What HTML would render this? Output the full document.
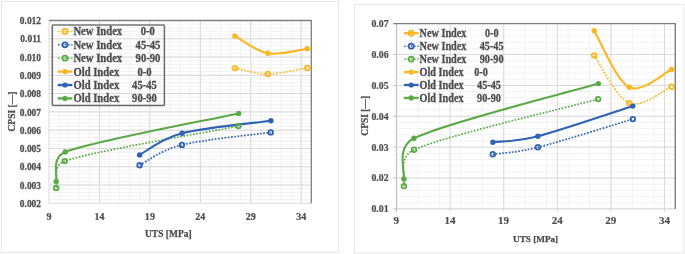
<!DOCTYPE html>
<html><head><meta charset="utf-8"><style>
html,body{margin:0;padding:0;background:#fff;width:685px;height:254px;overflow:hidden}
svg{display:block}
</style></head><body>
<svg width="685" height="254" viewBox="0 0 685 254">
<rect width="685" height="254" fill="#fff"/>
<rect x="1.5" y="1.5" width="337" height="251" fill="#fff" stroke="#e6e6e6" stroke-width="1"/>
<line x1="59.09" y1="20.5" x2="59.09" y2="203.3" stroke="#f2f2f2" stroke-width="1"/>
<line x1="69.18" y1="20.5" x2="69.18" y2="203.3" stroke="#f2f2f2" stroke-width="1"/>
<line x1="79.27" y1="20.5" x2="79.27" y2="203.3" stroke="#f2f2f2" stroke-width="1"/>
<line x1="89.35" y1="20.5" x2="89.35" y2="203.3" stroke="#f2f2f2" stroke-width="1"/>
<line x1="99.44" y1="20.5" x2="99.44" y2="203.3" stroke="#f2f2f2" stroke-width="1"/>
<line x1="109.53" y1="20.5" x2="109.53" y2="203.3" stroke="#f2f2f2" stroke-width="1"/>
<line x1="119.62" y1="20.5" x2="119.62" y2="203.3" stroke="#f2f2f2" stroke-width="1"/>
<line x1="129.71" y1="20.5" x2="129.71" y2="203.3" stroke="#f2f2f2" stroke-width="1"/>
<line x1="139.80" y1="20.5" x2="139.80" y2="203.3" stroke="#f2f2f2" stroke-width="1"/>
<line x1="149.88" y1="20.5" x2="149.88" y2="203.3" stroke="#f2f2f2" stroke-width="1"/>
<line x1="159.97" y1="20.5" x2="159.97" y2="203.3" stroke="#f2f2f2" stroke-width="1"/>
<line x1="170.06" y1="20.5" x2="170.06" y2="203.3" stroke="#f2f2f2" stroke-width="1"/>
<line x1="180.15" y1="20.5" x2="180.15" y2="203.3" stroke="#f2f2f2" stroke-width="1"/>
<line x1="190.24" y1="20.5" x2="190.24" y2="203.3" stroke="#f2f2f2" stroke-width="1"/>
<line x1="200.33" y1="20.5" x2="200.33" y2="203.3" stroke="#f2f2f2" stroke-width="1"/>
<line x1="210.42" y1="20.5" x2="210.42" y2="203.3" stroke="#f2f2f2" stroke-width="1"/>
<line x1="220.50" y1="20.5" x2="220.50" y2="203.3" stroke="#f2f2f2" stroke-width="1"/>
<line x1="230.59" y1="20.5" x2="230.59" y2="203.3" stroke="#f2f2f2" stroke-width="1"/>
<line x1="240.68" y1="20.5" x2="240.68" y2="203.3" stroke="#f2f2f2" stroke-width="1"/>
<line x1="250.77" y1="20.5" x2="250.77" y2="203.3" stroke="#f2f2f2" stroke-width="1"/>
<line x1="260.86" y1="20.5" x2="260.86" y2="203.3" stroke="#f2f2f2" stroke-width="1"/>
<line x1="270.95" y1="20.5" x2="270.95" y2="203.3" stroke="#f2f2f2" stroke-width="1"/>
<line x1="281.03" y1="20.5" x2="281.03" y2="203.3" stroke="#f2f2f2" stroke-width="1"/>
<line x1="291.12" y1="20.5" x2="291.12" y2="203.3" stroke="#f2f2f2" stroke-width="1"/>
<line x1="301.21" y1="20.5" x2="301.21" y2="203.3" stroke="#f2f2f2" stroke-width="1"/>
<line x1="49" y1="199.64" x2="311.3" y2="199.64" stroke="#f2f2f2" stroke-width="1"/>
<line x1="49" y1="195.99" x2="311.3" y2="195.99" stroke="#f2f2f2" stroke-width="1"/>
<line x1="49" y1="192.33" x2="311.3" y2="192.33" stroke="#f2f2f2" stroke-width="1"/>
<line x1="49" y1="188.68" x2="311.3" y2="188.68" stroke="#f2f2f2" stroke-width="1"/>
<line x1="49" y1="185.02" x2="311.3" y2="185.02" stroke="#f2f2f2" stroke-width="1"/>
<line x1="49" y1="181.36" x2="311.3" y2="181.36" stroke="#f2f2f2" stroke-width="1"/>
<line x1="49" y1="177.71" x2="311.3" y2="177.71" stroke="#f2f2f2" stroke-width="1"/>
<line x1="49" y1="174.05" x2="311.3" y2="174.05" stroke="#f2f2f2" stroke-width="1"/>
<line x1="49" y1="170.40" x2="311.3" y2="170.40" stroke="#f2f2f2" stroke-width="1"/>
<line x1="49" y1="166.74" x2="311.3" y2="166.74" stroke="#f2f2f2" stroke-width="1"/>
<line x1="49" y1="163.08" x2="311.3" y2="163.08" stroke="#f2f2f2" stroke-width="1"/>
<line x1="49" y1="159.43" x2="311.3" y2="159.43" stroke="#f2f2f2" stroke-width="1"/>
<line x1="49" y1="155.77" x2="311.3" y2="155.77" stroke="#f2f2f2" stroke-width="1"/>
<line x1="49" y1="152.12" x2="311.3" y2="152.12" stroke="#f2f2f2" stroke-width="1"/>
<line x1="49" y1="148.46" x2="311.3" y2="148.46" stroke="#f2f2f2" stroke-width="1"/>
<line x1="49" y1="144.80" x2="311.3" y2="144.80" stroke="#f2f2f2" stroke-width="1"/>
<line x1="49" y1="141.15" x2="311.3" y2="141.15" stroke="#f2f2f2" stroke-width="1"/>
<line x1="49" y1="137.49" x2="311.3" y2="137.49" stroke="#f2f2f2" stroke-width="1"/>
<line x1="49" y1="133.84" x2="311.3" y2="133.84" stroke="#f2f2f2" stroke-width="1"/>
<line x1="49" y1="130.18" x2="311.3" y2="130.18" stroke="#f2f2f2" stroke-width="1"/>
<line x1="49" y1="126.52" x2="311.3" y2="126.52" stroke="#f2f2f2" stroke-width="1"/>
<line x1="49" y1="122.87" x2="311.3" y2="122.87" stroke="#f2f2f2" stroke-width="1"/>
<line x1="49" y1="119.21" x2="311.3" y2="119.21" stroke="#f2f2f2" stroke-width="1"/>
<line x1="49" y1="115.56" x2="311.3" y2="115.56" stroke="#f2f2f2" stroke-width="1"/>
<line x1="49" y1="111.90" x2="311.3" y2="111.90" stroke="#f2f2f2" stroke-width="1"/>
<line x1="49" y1="108.24" x2="311.3" y2="108.24" stroke="#f2f2f2" stroke-width="1"/>
<line x1="49" y1="104.59" x2="311.3" y2="104.59" stroke="#f2f2f2" stroke-width="1"/>
<line x1="49" y1="100.93" x2="311.3" y2="100.93" stroke="#f2f2f2" stroke-width="1"/>
<line x1="49" y1="97.28" x2="311.3" y2="97.28" stroke="#f2f2f2" stroke-width="1"/>
<line x1="49" y1="93.62" x2="311.3" y2="93.62" stroke="#f2f2f2" stroke-width="1"/>
<line x1="49" y1="89.96" x2="311.3" y2="89.96" stroke="#f2f2f2" stroke-width="1"/>
<line x1="49" y1="86.31" x2="311.3" y2="86.31" stroke="#f2f2f2" stroke-width="1"/>
<line x1="49" y1="82.65" x2="311.3" y2="82.65" stroke="#f2f2f2" stroke-width="1"/>
<line x1="49" y1="79.00" x2="311.3" y2="79.00" stroke="#f2f2f2" stroke-width="1"/>
<line x1="49" y1="75.34" x2="311.3" y2="75.34" stroke="#f2f2f2" stroke-width="1"/>
<line x1="49" y1="71.68" x2="311.3" y2="71.68" stroke="#f2f2f2" stroke-width="1"/>
<line x1="49" y1="68.03" x2="311.3" y2="68.03" stroke="#f2f2f2" stroke-width="1"/>
<line x1="49" y1="64.37" x2="311.3" y2="64.37" stroke="#f2f2f2" stroke-width="1"/>
<line x1="49" y1="60.72" x2="311.3" y2="60.72" stroke="#f2f2f2" stroke-width="1"/>
<line x1="49" y1="57.06" x2="311.3" y2="57.06" stroke="#f2f2f2" stroke-width="1"/>
<line x1="49" y1="53.40" x2="311.3" y2="53.40" stroke="#f2f2f2" stroke-width="1"/>
<line x1="49" y1="49.75" x2="311.3" y2="49.75" stroke="#f2f2f2" stroke-width="1"/>
<line x1="49" y1="46.09" x2="311.3" y2="46.09" stroke="#f2f2f2" stroke-width="1"/>
<line x1="49" y1="42.44" x2="311.3" y2="42.44" stroke="#f2f2f2" stroke-width="1"/>
<line x1="49" y1="38.78" x2="311.3" y2="38.78" stroke="#f2f2f2" stroke-width="1"/>
<line x1="49" y1="35.12" x2="311.3" y2="35.12" stroke="#f2f2f2" stroke-width="1"/>
<line x1="49" y1="31.47" x2="311.3" y2="31.47" stroke="#f2f2f2" stroke-width="1"/>
<line x1="49" y1="27.81" x2="311.3" y2="27.81" stroke="#f2f2f2" stroke-width="1"/>
<line x1="49" y1="24.16" x2="311.3" y2="24.16" stroke="#f2f2f2" stroke-width="1"/>
<line x1="49.00" y1="20.5" x2="49.00" y2="203.3" stroke="#d9d9d9" stroke-width="1"/>
<line x1="99.44" y1="20.5" x2="99.44" y2="203.3" stroke="#d9d9d9" stroke-width="1"/>
<line x1="149.88" y1="20.5" x2="149.88" y2="203.3" stroke="#d9d9d9" stroke-width="1"/>
<line x1="200.33" y1="20.5" x2="200.33" y2="203.3" stroke="#d9d9d9" stroke-width="1"/>
<line x1="250.77" y1="20.5" x2="250.77" y2="203.3" stroke="#d9d9d9" stroke-width="1"/>
<line x1="301.21" y1="20.5" x2="301.21" y2="203.3" stroke="#d9d9d9" stroke-width="1"/>
<line x1="49" y1="203.30" x2="311.3" y2="203.30" stroke="#d9d9d9" stroke-width="1"/>
<line x1="49" y1="185.02" x2="311.3" y2="185.02" stroke="#d9d9d9" stroke-width="1"/>
<line x1="49" y1="166.74" x2="311.3" y2="166.74" stroke="#d9d9d9" stroke-width="1"/>
<line x1="49" y1="148.46" x2="311.3" y2="148.46" stroke="#d9d9d9" stroke-width="1"/>
<line x1="49" y1="130.18" x2="311.3" y2="130.18" stroke="#d9d9d9" stroke-width="1"/>
<line x1="49" y1="111.90" x2="311.3" y2="111.90" stroke="#d9d9d9" stroke-width="1"/>
<line x1="49" y1="93.62" x2="311.3" y2="93.62" stroke="#d9d9d9" stroke-width="1"/>
<line x1="49" y1="75.34" x2="311.3" y2="75.34" stroke="#d9d9d9" stroke-width="1"/>
<line x1="49" y1="57.06" x2="311.3" y2="57.06" stroke="#d9d9d9" stroke-width="1"/>
<line x1="49" y1="38.78" x2="311.3" y2="38.78" stroke="#d9d9d9" stroke-width="1"/>
<path d="M49,20.5 H311.3 V203.3" fill="none" stroke="#7f7f7f" stroke-width="1.3"/>
<text transform="translate(41.10,207.00) scale(0.87,1)" font-size="10.9" text-anchor="end" fill="#4d4d4d" style="font-family:'Liberation Serif',serif;font-weight:bold;filter:grayscale(1)"  stroke="#4d4d4d" stroke-width="0.25">0.002</text>
<text transform="translate(41.10,188.72) scale(0.87,1)" font-size="10.9" text-anchor="end" fill="#4d4d4d" style="font-family:'Liberation Serif',serif;font-weight:bold;filter:grayscale(1)"  stroke="#4d4d4d" stroke-width="0.25">0.003</text>
<text transform="translate(41.10,170.44) scale(0.87,1)" font-size="10.9" text-anchor="end" fill="#4d4d4d" style="font-family:'Liberation Serif',serif;font-weight:bold;filter:grayscale(1)"  stroke="#4d4d4d" stroke-width="0.25">0.004</text>
<text transform="translate(41.10,152.16) scale(0.87,1)" font-size="10.9" text-anchor="end" fill="#4d4d4d" style="font-family:'Liberation Serif',serif;font-weight:bold;filter:grayscale(1)"  stroke="#4d4d4d" stroke-width="0.25">0.005</text>
<text transform="translate(41.10,133.88) scale(0.87,1)" font-size="10.9" text-anchor="end" fill="#4d4d4d" style="font-family:'Liberation Serif',serif;font-weight:bold;filter:grayscale(1)"  stroke="#4d4d4d" stroke-width="0.25">0.006</text>
<text transform="translate(41.10,115.60) scale(0.87,1)" font-size="10.9" text-anchor="end" fill="#4d4d4d" style="font-family:'Liberation Serif',serif;font-weight:bold;filter:grayscale(1)"  stroke="#4d4d4d" stroke-width="0.25">0.007</text>
<text transform="translate(41.10,97.32) scale(0.87,1)" font-size="10.9" text-anchor="end" fill="#4d4d4d" style="font-family:'Liberation Serif',serif;font-weight:bold;filter:grayscale(1)"  stroke="#4d4d4d" stroke-width="0.25">0.008</text>
<text transform="translate(41.10,79.04) scale(0.87,1)" font-size="10.9" text-anchor="end" fill="#4d4d4d" style="font-family:'Liberation Serif',serif;font-weight:bold;filter:grayscale(1)"  stroke="#4d4d4d" stroke-width="0.25">0.009</text>
<text transform="translate(41.10,60.76) scale(0.87,1)" font-size="10.9" text-anchor="end" fill="#4d4d4d" style="font-family:'Liberation Serif',serif;font-weight:bold;filter:grayscale(1)"  stroke="#4d4d4d" stroke-width="0.25">0.010</text>
<text transform="translate(41.10,42.48) scale(0.87,1)" font-size="10.9" text-anchor="end" fill="#4d4d4d" style="font-family:'Liberation Serif',serif;font-weight:bold;filter:grayscale(1)"  stroke="#4d4d4d" stroke-width="0.25">0.011</text>
<text transform="translate(41.10,24.20) scale(0.87,1)" font-size="10.9" text-anchor="end" fill="#4d4d4d" style="font-family:'Liberation Serif',serif;font-weight:bold;filter:grayscale(1)"  stroke="#4d4d4d" stroke-width="0.25">0.012</text>
<text transform="translate(49.00,219.60) scale(0.88,1)" font-size="11.4" text-anchor="middle" fill="#4d4d4d" style="font-family:'Liberation Serif',serif;font-weight:bold;filter:grayscale(1)"  stroke="#4d4d4d" stroke-width="0.25">9</text>
<text transform="translate(99.44,219.60) scale(0.88,1)" font-size="11.4" text-anchor="middle" fill="#4d4d4d" style="font-family:'Liberation Serif',serif;font-weight:bold;filter:grayscale(1)"  stroke="#4d4d4d" stroke-width="0.25">14</text>
<text transform="translate(149.88,219.60) scale(0.88,1)" font-size="11.4" text-anchor="middle" fill="#4d4d4d" style="font-family:'Liberation Serif',serif;font-weight:bold;filter:grayscale(1)"  stroke="#4d4d4d" stroke-width="0.25">19</text>
<text transform="translate(200.33,219.60) scale(0.88,1)" font-size="11.4" text-anchor="middle" fill="#4d4d4d" style="font-family:'Liberation Serif',serif;font-weight:bold;filter:grayscale(1)"  stroke="#4d4d4d" stroke-width="0.25">24</text>
<text transform="translate(250.77,219.60) scale(0.88,1)" font-size="11.4" text-anchor="middle" fill="#4d4d4d" style="font-family:'Liberation Serif',serif;font-weight:bold;filter:grayscale(1)"  stroke="#4d4d4d" stroke-width="0.25">29</text>
<text transform="translate(301.21,219.60) scale(0.88,1)" font-size="11.4" text-anchor="middle" fill="#4d4d4d" style="font-family:'Liberation Serif',serif;font-weight:bold;filter:grayscale(1)"  stroke="#4d4d4d" stroke-width="0.25">34</text>
<text x="168.30" y="236.90" font-size="9.5" text-anchor="middle" fill="#4d4d4d" style="font-family:'Liberation Serif',serif;font-weight:bold;filter:grayscale(1)"  stroke="#4d4d4d" stroke-width="0.25">UTS [MPa]</text>
<text transform="translate(15.4,111.6) rotate(-90)" x="0" y="0" font-size="9.5" text-anchor="middle" fill="#4d4d4d" stroke="#4d4d4d" stroke-width="0.25" style="font-family:'Liberation Serif',serif;font-weight:bold;filter:grayscale(1)">CPSI [—]</text>
<rect x="52.3" y="25.0" width="112.1" height="80.4" rx="0.8" fill="none" stroke="#6a6a6a" stroke-width="1.5"/>
<line x1="53.2" y1="25.0" x2="163.5" y2="25.0" stroke="#9a9a9a" stroke-width="1.5"/>
<line x1="58" y1="31.4" x2="72.5" y2="31.4" stroke="#F9B821" stroke-width="1.5" stroke-dasharray="1.5,1.8"/>
<circle cx="65" cy="31.4" r="2.5" fill="none" stroke="#F9B821" stroke-width="1.8"/>
<text transform="translate(73.40,35.40) scale(0.895,1)" font-size="11.9" text-anchor="start" fill="#4d4d4d" style="font-family:'Liberation Serif',serif;font-weight:bold;filter:grayscale(1)"  stroke="#4d4d4d" stroke-width="0.3">New Index</text>
<text transform="translate(147.80,35.40) scale(0.895,1)" font-size="11.9" text-anchor="middle" fill="#4d4d4d" style="font-family:'Liberation Serif',serif;font-weight:bold;filter:grayscale(1)"  stroke="#4d4d4d" stroke-width="0.3">0-0</text>
<line x1="58" y1="44.8" x2="72.5" y2="44.8" stroke="#2F63B5" stroke-width="1.5" stroke-dasharray="1.5,1.8"/>
<circle cx="65" cy="44.8" r="2.5" fill="none" stroke="#2F63B5" stroke-width="1.8"/>
<text transform="translate(73.40,48.80) scale(0.895,1)" font-size="11.9" text-anchor="start" fill="#4d4d4d" style="font-family:'Liberation Serif',serif;font-weight:bold;filter:grayscale(1)"  stroke="#4d4d4d" stroke-width="0.3">New Index</text>
<text transform="translate(148.00,48.80) scale(0.895,1)" font-size="11.9" text-anchor="middle" fill="#4d4d4d" style="font-family:'Liberation Serif',serif;font-weight:bold;filter:grayscale(1)"  stroke="#4d4d4d" stroke-width="0.3">45-45</text>
<line x1="58" y1="58.2" x2="72.5" y2="58.2" stroke="#5BAA47" stroke-width="1.5" stroke-dasharray="1.5,1.8"/>
<circle cx="65" cy="58.2" r="2.5" fill="none" stroke="#5BAA47" stroke-width="1.8"/>
<text transform="translate(73.40,62.20) scale(0.895,1)" font-size="11.9" text-anchor="start" fill="#4d4d4d" style="font-family:'Liberation Serif',serif;font-weight:bold;filter:grayscale(1)"  stroke="#4d4d4d" stroke-width="0.3">New Index</text>
<text transform="translate(148.00,62.20) scale(0.895,1)" font-size="11.9" text-anchor="middle" fill="#4d4d4d" style="font-family:'Liberation Serif',serif;font-weight:bold;filter:grayscale(1)"  stroke="#4d4d4d" stroke-width="0.3">90-90</text>
<line x1="57.7" y1="71.6" x2="72.3" y2="71.6" stroke="#F9B821" stroke-width="2.3"/>
<circle cx="65" cy="71.6" r="2.6" fill="#F9B821"/>
<text transform="translate(73.40,75.60) scale(0.895,1)" font-size="11.9" text-anchor="start" fill="#4d4d4d" style="font-family:'Liberation Serif',serif;font-weight:bold;filter:grayscale(1)"  stroke="#4d4d4d" stroke-width="0.3">Old Index</text>
<text transform="translate(144.50,75.60) scale(0.895,1)" font-size="11.9" text-anchor="middle" fill="#4d4d4d" style="font-family:'Liberation Serif',serif;font-weight:bold;filter:grayscale(1)"  stroke="#4d4d4d" stroke-width="0.3">0-0</text>
<line x1="57.7" y1="85.0" x2="72.3" y2="85.0" stroke="#2F63B5" stroke-width="2.3"/>
<circle cx="65" cy="85.0" r="2.6" fill="#2F63B5"/>
<text transform="translate(73.40,89.00) scale(0.895,1)" font-size="11.9" text-anchor="start" fill="#4d4d4d" style="font-family:'Liberation Serif',serif;font-weight:bold;filter:grayscale(1)"  stroke="#4d4d4d" stroke-width="0.3">Old Index</text>
<text transform="translate(144.50,89.00) scale(0.895,1)" font-size="11.9" text-anchor="middle" fill="#4d4d4d" style="font-family:'Liberation Serif',serif;font-weight:bold;filter:grayscale(1)"  stroke="#4d4d4d" stroke-width="0.3">45-45</text>
<line x1="57.7" y1="98.4" x2="72.3" y2="98.4" stroke="#5BAA47" stroke-width="2.3"/>
<circle cx="65" cy="98.4" r="2.6" fill="#5BAA47"/>
<text transform="translate(73.40,102.40) scale(0.895,1)" font-size="11.9" text-anchor="start" fill="#4d4d4d" style="font-family:'Liberation Serif',serif;font-weight:bold;filter:grayscale(1)"  stroke="#4d4d4d" stroke-width="0.3">Old Index</text>
<text transform="translate(144.50,102.40) scale(0.895,1)" font-size="11.9" text-anchor="middle" fill="#4d4d4d" style="font-family:'Liberation Serif',serif;font-weight:bold;filter:grayscale(1)"  stroke="#4d4d4d" stroke-width="0.3">90-90</text>
<path d="M234.90,68.10 C240.40,69.08 255.83,74.03 267.90,74.00 C279.97,73.97 300.73,68.92 307.30,67.90" fill="none" stroke="#F9B821" stroke-width="1.7" stroke-dasharray="1.70,1.53"/>
<path d="M139.60,165.20 C146.65,161.82 160.05,150.37 181.90,144.90 C203.75,139.43 255.90,134.48 270.70,132.40" fill="none" stroke="#2F63B5" stroke-width="1.7" stroke-dasharray="1.70,1.53"/>
<path d="M56.20,187.90 C57.62,183.43 51.39,165.62 64.70,161.10 C95.07,150.80 209.45,131.93 238.40,126.10" fill="none" stroke="#5BAA47" stroke-width="1.7" stroke-dasharray="1.70,1.53"/>
<path d="M234.90,35.90 C240.40,38.80 255.83,51.17 267.90,53.30 C279.97,55.43 300.73,49.47 307.30,48.70" fill="none" stroke="#F9B821" stroke-width="2.1" stroke-linecap="round"/>
<path d="M139.60,154.90 C146.68,151.28 160.22,138.90 182.10,133.20 C203.98,127.50 256.10,122.78 270.90,120.70" fill="none" stroke="#2F63B5" stroke-width="2.1" stroke-linecap="round"/>
<path d="M56.20,181.40 C57.72,176.48 50.84,157.29 65.30,151.90 C95.70,140.57 209.72,119.82 238.60,113.40" fill="none" stroke="#5BAA47" stroke-width="2.1" stroke-linecap="round"/>
<circle cx="234.9" cy="68.1" r="2.35" fill="none" stroke="#F9B821" stroke-width="1.75"/>
<circle cx="267.9" cy="74.0" r="2.35" fill="none" stroke="#F9B821" stroke-width="1.75"/>
<circle cx="307.3" cy="67.9" r="2.35" fill="none" stroke="#F9B821" stroke-width="1.75"/>
<circle cx="139.6" cy="165.2" r="2.35" fill="none" stroke="#2F63B5" stroke-width="1.75"/>
<circle cx="181.9" cy="144.9" r="2.35" fill="none" stroke="#2F63B5" stroke-width="1.75"/>
<circle cx="270.7" cy="132.4" r="2.35" fill="none" stroke="#2F63B5" stroke-width="1.75"/>
<circle cx="56.2" cy="187.9" r="2.35" fill="none" stroke="#5BAA47" stroke-width="1.75"/>
<circle cx="64.7" cy="161.1" r="2.35" fill="none" stroke="#5BAA47" stroke-width="1.75"/>
<circle cx="238.4" cy="126.1" r="2.35" fill="none" stroke="#5BAA47" stroke-width="1.75"/>
<circle cx="234.9" cy="35.9" r="2.7" fill="#F9B821"/>
<circle cx="267.9" cy="53.3" r="2.7" fill="#F9B821"/>
<circle cx="307.3" cy="48.7" r="2.7" fill="#F9B821"/>
<circle cx="139.6" cy="154.9" r="2.7" fill="#2F63B5"/>
<circle cx="182.1" cy="133.2" r="2.7" fill="#2F63B5"/>
<circle cx="270.9" cy="120.7" r="2.7" fill="#2F63B5"/>
<circle cx="56.2" cy="181.4" r="2.7" fill="#5BAA47"/>
<circle cx="65.3" cy="151.9" r="2.7" fill="#5BAA47"/>
<circle cx="238.6" cy="113.4" r="2.7" fill="#5BAA47"/>
<rect x="354.5" y="4.5" width="329.5" height="248.5" fill="#fff" stroke="#e6e6e6" stroke-width="1"/>
<line x1="417.95" y1="23.6" x2="417.95" y2="208.9" stroke="#f2f2f2" stroke-width="1"/>
<line x1="439.39" y1="23.6" x2="439.39" y2="208.9" stroke="#f2f2f2" stroke-width="1"/>
<line x1="460.84" y1="23.6" x2="460.84" y2="208.9" stroke="#f2f2f2" stroke-width="1"/>
<line x1="482.28" y1="23.6" x2="482.28" y2="208.9" stroke="#f2f2f2" stroke-width="1"/>
<line x1="503.73" y1="23.6" x2="503.73" y2="208.9" stroke="#f2f2f2" stroke-width="1"/>
<line x1="525.18" y1="23.6" x2="525.18" y2="208.9" stroke="#f2f2f2" stroke-width="1"/>
<line x1="546.62" y1="23.6" x2="546.62" y2="208.9" stroke="#f2f2f2" stroke-width="1"/>
<line x1="568.07" y1="23.6" x2="568.07" y2="208.9" stroke="#f2f2f2" stroke-width="1"/>
<line x1="589.52" y1="23.6" x2="589.52" y2="208.9" stroke="#f2f2f2" stroke-width="1"/>
<line x1="610.96" y1="23.6" x2="610.96" y2="208.9" stroke="#f2f2f2" stroke-width="1"/>
<line x1="632.41" y1="23.6" x2="632.41" y2="208.9" stroke="#f2f2f2" stroke-width="1"/>
<line x1="653.85" y1="23.6" x2="653.85" y2="208.9" stroke="#f2f2f2" stroke-width="1"/>
<line x1="675.30" y1="23.6" x2="675.30" y2="208.9" stroke="#f2f2f2" stroke-width="1"/>
<line x1="396.5" y1="202.72" x2="675.3" y2="202.72" stroke="#f2f2f2" stroke-width="1"/>
<line x1="396.5" y1="196.55" x2="675.3" y2="196.55" stroke="#f2f2f2" stroke-width="1"/>
<line x1="396.5" y1="190.37" x2="675.3" y2="190.37" stroke="#f2f2f2" stroke-width="1"/>
<line x1="396.5" y1="184.19" x2="675.3" y2="184.19" stroke="#f2f2f2" stroke-width="1"/>
<line x1="396.5" y1="178.02" x2="675.3" y2="178.02" stroke="#f2f2f2" stroke-width="1"/>
<line x1="396.5" y1="171.84" x2="675.3" y2="171.84" stroke="#f2f2f2" stroke-width="1"/>
<line x1="396.5" y1="165.66" x2="675.3" y2="165.66" stroke="#f2f2f2" stroke-width="1"/>
<line x1="396.5" y1="159.49" x2="675.3" y2="159.49" stroke="#f2f2f2" stroke-width="1"/>
<line x1="396.5" y1="153.31" x2="675.3" y2="153.31" stroke="#f2f2f2" stroke-width="1"/>
<line x1="396.5" y1="147.13" x2="675.3" y2="147.13" stroke="#f2f2f2" stroke-width="1"/>
<line x1="396.5" y1="140.96" x2="675.3" y2="140.96" stroke="#f2f2f2" stroke-width="1"/>
<line x1="396.5" y1="134.78" x2="675.3" y2="134.78" stroke="#f2f2f2" stroke-width="1"/>
<line x1="396.5" y1="128.60" x2="675.3" y2="128.60" stroke="#f2f2f2" stroke-width="1"/>
<line x1="396.5" y1="122.43" x2="675.3" y2="122.43" stroke="#f2f2f2" stroke-width="1"/>
<line x1="396.5" y1="116.25" x2="675.3" y2="116.25" stroke="#f2f2f2" stroke-width="1"/>
<line x1="396.5" y1="110.07" x2="675.3" y2="110.07" stroke="#f2f2f2" stroke-width="1"/>
<line x1="396.5" y1="103.90" x2="675.3" y2="103.90" stroke="#f2f2f2" stroke-width="1"/>
<line x1="396.5" y1="97.72" x2="675.3" y2="97.72" stroke="#f2f2f2" stroke-width="1"/>
<line x1="396.5" y1="91.54" x2="675.3" y2="91.54" stroke="#f2f2f2" stroke-width="1"/>
<line x1="396.5" y1="85.37" x2="675.3" y2="85.37" stroke="#f2f2f2" stroke-width="1"/>
<line x1="396.5" y1="79.19" x2="675.3" y2="79.19" stroke="#f2f2f2" stroke-width="1"/>
<line x1="396.5" y1="73.01" x2="675.3" y2="73.01" stroke="#f2f2f2" stroke-width="1"/>
<line x1="396.5" y1="66.84" x2="675.3" y2="66.84" stroke="#f2f2f2" stroke-width="1"/>
<line x1="396.5" y1="60.66" x2="675.3" y2="60.66" stroke="#f2f2f2" stroke-width="1"/>
<line x1="396.5" y1="54.48" x2="675.3" y2="54.48" stroke="#f2f2f2" stroke-width="1"/>
<line x1="396.5" y1="48.31" x2="675.3" y2="48.31" stroke="#f2f2f2" stroke-width="1"/>
<line x1="396.5" y1="42.13" x2="675.3" y2="42.13" stroke="#f2f2f2" stroke-width="1"/>
<line x1="396.5" y1="35.95" x2="675.3" y2="35.95" stroke="#f2f2f2" stroke-width="1"/>
<line x1="396.5" y1="29.78" x2="675.3" y2="29.78" stroke="#f2f2f2" stroke-width="1"/>
<line x1="450.12" y1="23.6" x2="450.12" y2="208.9" stroke="#d9d9d9" stroke-width="1"/>
<line x1="503.73" y1="23.6" x2="503.73" y2="208.9" stroke="#d9d9d9" stroke-width="1"/>
<line x1="557.35" y1="23.6" x2="557.35" y2="208.9" stroke="#d9d9d9" stroke-width="1"/>
<line x1="610.96" y1="23.6" x2="610.96" y2="208.9" stroke="#d9d9d9" stroke-width="1"/>
<line x1="664.58" y1="23.6" x2="664.58" y2="208.9" stroke="#d9d9d9" stroke-width="1"/>
<line x1="396.5" y1="178.02" x2="675.3" y2="178.02" stroke="#d9d9d9" stroke-width="1"/>
<line x1="396.5" y1="147.13" x2="675.3" y2="147.13" stroke="#d9d9d9" stroke-width="1"/>
<line x1="396.5" y1="116.25" x2="675.3" y2="116.25" stroke="#d9d9d9" stroke-width="1"/>
<line x1="396.5" y1="85.37" x2="675.3" y2="85.37" stroke="#d9d9d9" stroke-width="1"/>
<line x1="396.5" y1="54.48" x2="675.3" y2="54.48" stroke="#d9d9d9" stroke-width="1"/>
<line x1="396.5" y1="208.9" x2="675.3" y2="208.9" stroke="#d9d9d9" stroke-width="1.2"/>
<line x1="396.50" y1="208.9" x2="396.50" y2="211.9" stroke="#d9d9d9" stroke-width="1"/>
<line x1="450.12" y1="208.9" x2="450.12" y2="211.9" stroke="#d9d9d9" stroke-width="1"/>
<line x1="503.73" y1="208.9" x2="503.73" y2="211.9" stroke="#d9d9d9" stroke-width="1"/>
<line x1="557.35" y1="208.9" x2="557.35" y2="211.9" stroke="#d9d9d9" stroke-width="1"/>
<line x1="610.96" y1="208.9" x2="610.96" y2="211.9" stroke="#d9d9d9" stroke-width="1"/>
<line x1="664.58" y1="208.9" x2="664.58" y2="211.9" stroke="#d9d9d9" stroke-width="1"/>
<line x1="396.5" y1="23.6" x2="396.5" y2="211.9" stroke="#bfbfbf" stroke-width="1.2"/>
<line x1="393.3" y1="208.90" x2="396.5" y2="208.90" stroke="#bfbfbf" stroke-width="1"/>
<line x1="393.3" y1="178.02" x2="396.5" y2="178.02" stroke="#bfbfbf" stroke-width="1"/>
<line x1="393.3" y1="147.13" x2="396.5" y2="147.13" stroke="#bfbfbf" stroke-width="1"/>
<line x1="393.3" y1="116.25" x2="396.5" y2="116.25" stroke="#bfbfbf" stroke-width="1"/>
<line x1="393.3" y1="85.37" x2="396.5" y2="85.37" stroke="#bfbfbf" stroke-width="1"/>
<line x1="393.3" y1="54.48" x2="396.5" y2="54.48" stroke="#bfbfbf" stroke-width="1"/>
<line x1="393.3" y1="23.60" x2="396.5" y2="23.60" stroke="#bfbfbf" stroke-width="1"/>
<path d="M393.3,23.6 H675.3 V208.9" fill="none" stroke="#7f7f7f" stroke-width="1.4"/>
<text x="388.60" y="212.30" font-size="9.8" text-anchor="end" fill="#4d4d4d" style="font-family:'Liberation Serif',serif;font-weight:bold;filter:grayscale(1)"  stroke="#4d4d4d" stroke-width="0.2">0.01</text>
<text x="388.60" y="181.42" font-size="9.8" text-anchor="end" fill="#4d4d4d" style="font-family:'Liberation Serif',serif;font-weight:bold;filter:grayscale(1)"  stroke="#4d4d4d" stroke-width="0.2">0.02</text>
<text x="388.60" y="150.53" font-size="9.8" text-anchor="end" fill="#4d4d4d" style="font-family:'Liberation Serif',serif;font-weight:bold;filter:grayscale(1)"  stroke="#4d4d4d" stroke-width="0.2">0.03</text>
<text x="388.60" y="119.65" font-size="9.8" text-anchor="end" fill="#4d4d4d" style="font-family:'Liberation Serif',serif;font-weight:bold;filter:grayscale(1)"  stroke="#4d4d4d" stroke-width="0.2">0.04</text>
<text x="388.60" y="88.77" font-size="9.8" text-anchor="end" fill="#4d4d4d" style="font-family:'Liberation Serif',serif;font-weight:bold;filter:grayscale(1)"  stroke="#4d4d4d" stroke-width="0.2">0.05</text>
<text x="388.60" y="57.88" font-size="9.8" text-anchor="end" fill="#4d4d4d" style="font-family:'Liberation Serif',serif;font-weight:bold;filter:grayscale(1)"  stroke="#4d4d4d" stroke-width="0.2">0.06</text>
<text x="388.60" y="27.00" font-size="9.8" text-anchor="end" fill="#4d4d4d" style="font-family:'Liberation Serif',serif;font-weight:bold;filter:grayscale(1)"  stroke="#4d4d4d" stroke-width="0.2">0.07</text>
<text x="396.30" y="224.30" font-size="11" text-anchor="middle" fill="#4d4d4d" style="font-family:'Liberation Serif',serif;font-weight:bold;filter:grayscale(1)"  stroke="#4d4d4d" stroke-width="0.15">9</text>
<text x="449.92" y="224.30" font-size="11" text-anchor="middle" fill="#4d4d4d" style="font-family:'Liberation Serif',serif;font-weight:bold;filter:grayscale(1)"  stroke="#4d4d4d" stroke-width="0.15">14</text>
<text x="503.53" y="224.30" font-size="11" text-anchor="middle" fill="#4d4d4d" style="font-family:'Liberation Serif',serif;font-weight:bold;filter:grayscale(1)"  stroke="#4d4d4d" stroke-width="0.15">19</text>
<text x="557.15" y="224.30" font-size="11" text-anchor="middle" fill="#4d4d4d" style="font-family:'Liberation Serif',serif;font-weight:bold;filter:grayscale(1)"  stroke="#4d4d4d" stroke-width="0.15">24</text>
<text x="610.76" y="224.30" font-size="11" text-anchor="middle" fill="#4d4d4d" style="font-family:'Liberation Serif',serif;font-weight:bold;filter:grayscale(1)"  stroke="#4d4d4d" stroke-width="0.15">29</text>
<text x="664.38" y="224.30" font-size="11" text-anchor="middle" fill="#4d4d4d" style="font-family:'Liberation Serif',serif;font-weight:bold;filter:grayscale(1)"  stroke="#4d4d4d" stroke-width="0.15">34</text>
<text x="535.60" y="242.00" font-size="9.2" text-anchor="middle" fill="#4d4d4d" style="font-family:'Liberation Serif',serif;font-weight:bold;filter:grayscale(1)"  stroke="#4d4d4d" stroke-width="0.25">UTS [MPa]</text>
<text transform="translate(368.4,115.8) rotate(-90)" x="0" y="0" font-size="9.5" text-anchor="middle" fill="#4d4d4d" stroke="#4d4d4d" stroke-width="0.25" style="font-family:'Liberation Serif',serif;font-weight:bold;filter:grayscale(1)">CPSI [—]</text>
<line x1="403.9" y1="33.2" x2="418.5" y2="33.2" stroke="#F9B821" stroke-width="2.3"/>
<circle cx="411.2" cy="33.2" r="2.5" fill="none" stroke="#F9B821" stroke-width="1.8"/>
<text transform="translate(419.50,37.00) scale(0.855,1)" font-size="12.0" text-anchor="start" fill="#4d4d4d" style="font-family:'Liberation Serif',serif;font-weight:bold;filter:grayscale(1)"  stroke="#4d4d4d" stroke-width="0.3">New Index</text>
<text transform="translate(491.80,37.00) scale(0.855,1)" font-size="12.0" text-anchor="middle" fill="#4d4d4d" style="font-family:'Liberation Serif',serif;font-weight:bold;filter:grayscale(1)"  stroke="#4d4d4d" stroke-width="0.3">0-0</text>
<line x1="404.2" y1="46.150000000000006" x2="418.7" y2="46.150000000000006" stroke="#2F63B5" stroke-width="1.5" stroke-dasharray="1.5,1.8"/>
<circle cx="411.2" cy="46.150000000000006" r="2.5" fill="none" stroke="#2F63B5" stroke-width="1.8"/>
<text transform="translate(419.50,49.95) scale(0.855,1)" font-size="12.0" text-anchor="start" fill="#4d4d4d" style="font-family:'Liberation Serif',serif;font-weight:bold;filter:grayscale(1)"  stroke="#4d4d4d" stroke-width="0.3">New Index</text>
<text transform="translate(491.60,49.95) scale(0.855,1)" font-size="12.0" text-anchor="middle" fill="#4d4d4d" style="font-family:'Liberation Serif',serif;font-weight:bold;filter:grayscale(1)"  stroke="#4d4d4d" stroke-width="0.3">45-45</text>
<line x1="404.2" y1="59.1" x2="418.7" y2="59.1" stroke="#5BAA47" stroke-width="1.5" stroke-dasharray="1.5,1.8"/>
<circle cx="411.2" cy="59.1" r="2.5" fill="none" stroke="#5BAA47" stroke-width="1.8"/>
<text transform="translate(419.50,62.90) scale(0.855,1)" font-size="12.0" text-anchor="start" fill="#4d4d4d" style="font-family:'Liberation Serif',serif;font-weight:bold;filter:grayscale(1)"  stroke="#4d4d4d" stroke-width="0.3">New Index</text>
<text transform="translate(491.60,62.90) scale(0.855,1)" font-size="12.0" text-anchor="middle" fill="#4d4d4d" style="font-family:'Liberation Serif',serif;font-weight:bold;filter:grayscale(1)"  stroke="#4d4d4d" stroke-width="0.3">90-90</text>
<line x1="403.9" y1="72.05" x2="418.5" y2="72.05" stroke="#F9B821" stroke-width="2.3"/>
<circle cx="411.2" cy="72.05" r="2.6" fill="#F9B821"/>
<text transform="translate(419.50,75.85) scale(0.855,1)" font-size="12.0" text-anchor="start" fill="#4d4d4d" style="font-family:'Liberation Serif',serif;font-weight:bold;filter:grayscale(1)"  stroke="#4d4d4d" stroke-width="0.3">Old Index</text>
<text transform="translate(481.00,75.85) scale(0.855,1)" font-size="12.0" text-anchor="middle" fill="#4d4d4d" style="font-family:'Liberation Serif',serif;font-weight:bold;filter:grayscale(1)"  stroke="#4d4d4d" stroke-width="0.3">0-0</text>
<line x1="403.9" y1="85.0" x2="418.5" y2="85.0" stroke="#2F63B5" stroke-width="2.3"/>
<circle cx="411.2" cy="85.0" r="2.6" fill="#2F63B5"/>
<text transform="translate(419.50,88.80) scale(0.855,1)" font-size="12.0" text-anchor="start" fill="#4d4d4d" style="font-family:'Liberation Serif',serif;font-weight:bold;filter:grayscale(1)"  stroke="#4d4d4d" stroke-width="0.3">Old Index</text>
<text transform="translate(489.00,88.80) scale(0.855,1)" font-size="12.0" text-anchor="middle" fill="#4d4d4d" style="font-family:'Liberation Serif',serif;font-weight:bold;filter:grayscale(1)"  stroke="#4d4d4d" stroke-width="0.3">45-45</text>
<line x1="403.9" y1="97.95" x2="418.5" y2="97.95" stroke="#5BAA47" stroke-width="2.3"/>
<circle cx="411.2" cy="97.95" r="2.6" fill="#5BAA47"/>
<text transform="translate(419.50,101.75) scale(0.855,1)" font-size="12.0" text-anchor="start" fill="#4d4d4d" style="font-family:'Liberation Serif',serif;font-weight:bold;filter:grayscale(1)"  stroke="#4d4d4d" stroke-width="0.3">Old Index</text>
<text transform="translate(489.00,101.75) scale(0.855,1)" font-size="12.0" text-anchor="middle" fill="#4d4d4d" style="font-family:'Liberation Serif',serif;font-weight:bold;filter:grayscale(1)"  stroke="#4d4d4d" stroke-width="0.3">90-90</text>
<path d="M594.20,55.50 C600.03,63.43 616.32,97.88 629.20,103.10 C642.08,108.32 664.45,89.52 671.50,86.80" fill="none" stroke="#F9B821" stroke-width="1.7" stroke-dasharray="1.70,1.53"/>
<path d="M492.80,154.30 C500.32,153.13 515.77,152.86 537.90,147.30 C561.23,141.43 616.98,123.80 632.80,119.10" fill="none" stroke="#2F63B5" stroke-width="1.7" stroke-dasharray="1.70,1.53"/>
<path d="M403.90,186.10 C405.58,180.05 396.81,157.50 414.00,149.80 C446.37,135.30 567.42,107.55 598.10,99.10" fill="none" stroke="#5BAA47" stroke-width="1.7" stroke-dasharray="1.70,1.53"/>
<path d="M594.20,30.70 C600.03,40.12 616.32,80.73 629.20,87.20 C642.08,93.67 664.45,72.45 671.50,69.50" fill="none" stroke="#F9B821" stroke-width="2.1" stroke-linecap="round"/>
<path d="M492.90,142.20 C500.40,141.22 515.93,141.97 537.90,136.30 C561.22,130.28 616.98,111.13 632.80,106.10" fill="none" stroke="#2F63B5" stroke-width="2.1" stroke-linecap="round"/>
<path d="M403.90,179.00 C405.58,172.22 395.18,147.53 414.00,138.30 C446.42,122.40 567.67,92.72 598.40,83.60" fill="none" stroke="#5BAA47" stroke-width="2.1" stroke-linecap="round"/>
<circle cx="594.2" cy="55.5" r="2.35" fill="none" stroke="#F9B821" stroke-width="1.75"/>
<circle cx="629.2" cy="103.1" r="2.35" fill="none" stroke="#F9B821" stroke-width="1.75"/>
<circle cx="671.5" cy="86.8" r="2.35" fill="none" stroke="#F9B821" stroke-width="1.75"/>
<circle cx="492.8" cy="154.3" r="2.35" fill="none" stroke="#2F63B5" stroke-width="1.75"/>
<circle cx="537.9" cy="147.3" r="2.35" fill="none" stroke="#2F63B5" stroke-width="1.75"/>
<circle cx="632.8" cy="119.1" r="2.35" fill="none" stroke="#2F63B5" stroke-width="1.75"/>
<circle cx="403.9" cy="186.1" r="2.35" fill="none" stroke="#5BAA47" stroke-width="1.75"/>
<circle cx="414" cy="149.8" r="2.35" fill="none" stroke="#5BAA47" stroke-width="1.75"/>
<circle cx="598.1" cy="99.1" r="2.35" fill="none" stroke="#5BAA47" stroke-width="1.75"/>
<circle cx="594.2" cy="30.7" r="2.7" fill="#F9B821"/>
<circle cx="629.2" cy="87.2" r="2.7" fill="#F9B821"/>
<circle cx="671.5" cy="69.5" r="2.7" fill="#F9B821"/>
<circle cx="492.9" cy="142.2" r="2.7" fill="#2F63B5"/>
<circle cx="537.9" cy="136.3" r="2.7" fill="#2F63B5"/>
<circle cx="632.8" cy="106.1" r="2.7" fill="#2F63B5"/>
<circle cx="403.9" cy="179.0" r="2.7" fill="#5BAA47"/>
<circle cx="414" cy="138.3" r="2.7" fill="#5BAA47"/>
<circle cx="598.4" cy="83.6" r="2.7" fill="#5BAA47"/>
</svg>
</body></html>
